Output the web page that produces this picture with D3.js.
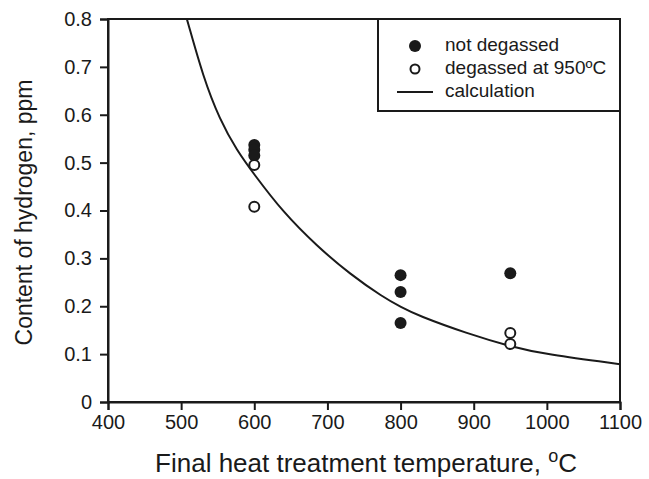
<!DOCTYPE html>
<html><head><meta charset="utf-8">
<script src="https://cdn.jsdelivr.net/npm/d3@7"></script>
<style>
body{margin:0;background:#fff;}
svg{font-family:"Liberation Sans",Arial,sans-serif;}
</style></head>
<body><svg id="c" width="649" height="479"></svg>
<script>
const xTicks = [400,500,600,700,800,900,1000,1100];
const yTicks = [0,0.1,0.2,0.3,0.4,0.5,0.6,0.7,0.8];
const notDegassedT = [600,600,600,800,800,800,950];
const notDegassedH = [0.537,0.527,0.515,0.265,0.230,0.165,0.269];
const degassedT = [600,600,950,950];
const degassedH = [0.495,0.408,0.144,0.121];
const calcT = [500,508,530,553,576,600,639,686,731,776,801,823,891,950,1000,1100];
const calcH = [0.84,0.80,0.679,0.589,0.526,0.475,0.397,0.325,0.267,0.219,0.198,0.181,0.143,0.116,0.099,0.079];
const legendLabels = ["not degassed","degassed at 950\u00BAC","calculation"];

const svg = d3.select("#c");
const L=108,R=620,T=19,B=402;
const x = d3.scaleLinear().domain([400,1100]).range([L,R]);
const y = d3.scaleLinear().domain([0,0.8]).range([B,T]);
const ink="#1a1a1a";

svg.append("defs").append("clipPath").attr("id","clip")
  .append("rect").attr("x",L).attr("y",T).attr("width",R-L).attr("height",B-T);

svg.append("rect").attr("x",L).attr("y",T).attr("width",R-L).attr("height",B-T)
  .attr("fill","none").attr("stroke",ink).attr("stroke-width",2);

const xa = svg.append("g").attr("transform",`translate(0,${B})`)
  .call(d3.axisBottom(x).tickValues(xTicks).tickSize(8).tickPadding(5).tickFormat(d3.format("d")));
const ya = svg.append("g").attr("transform",`translate(${L},0)`)
  .call(d3.axisLeft(y).tickValues(yTicks).tickSize(8).tickPadding(8).tickFormat(d=>d===0?"0":d3.format(".1f")(d)));
[xa,ya].forEach(g=>{
  g.select(".domain").attr("stroke",ink).attr("stroke-width",2);
  g.selectAll(".tick line").attr("stroke",ink).attr("stroke-width",2);
  g.selectAll(".tick text").attr("fill",ink).attr("font-size",20).attr("font-family","Liberation Sans, Arial, sans-serif");
});

const line = d3.line().x((d,i)=>x(calcT[i])).y((d,i)=>y(calcH[i])).curve(d3.curveBasis);
svg.append("path").datum(calcH).attr("d",line).attr("clip-path","url(#clip)")
  .attr("fill","none").attr("stroke",ink).attr("stroke-width",2);

svg.append("g").selectAll("circle").data(notDegassedH).join("circle")
  .attr("cx",(d,i)=>x(notDegassedT[i])).attr("cy",d=>y(d)).attr("r",6).attr("fill",ink);
svg.append("g").selectAll("circle").data(degassedH).join("circle")
  .attr("cx",(d,i)=>x(degassedT[i])).attr("cy",d=>y(d)).attr("r",5).attr("fill","#fff")
  .attr("stroke",ink).attr("stroke-width",2);

const lg = svg.append("g");
lg.append("rect").attr("x",378).attr("y",T).attr("width",R-378).attr("height",111-T)
  .attr("fill","#fff").attr("stroke",ink).attr("stroke-width",2);
lg.append("circle").attr("cx",415).attr("cy",46).attr("r",6).attr("fill",ink);
lg.append("circle").attr("cx",415).attr("cy",69).attr("r",4.5).attr("fill","#fff").attr("stroke",ink).attr("stroke-width",2);
lg.append("line").attr("x1",397).attr("x2",433).attr("y1",92).attr("y2",92).attr("stroke",ink).attr("stroke-width",2);
lg.selectAll("text").data(legendLabels).join("text")
  .attr("x",445).attr("y",(d,i)=>51+i*23).attr("font-size",19).attr("fill",ink).text(d=>d);

const xt = svg.append("text").attr("x",366).attr("y",472).attr("text-anchor","middle")
  .attr("font-size",26).attr("fill",ink);
xt.append("tspan").text("Final heat treatment temperature, ");
xt.append("tspan").attr("font-size",18).attr("dy",-10).text("o");
xt.append("tspan").attr("dy",10).text("C");
svg.append("text").attr("transform",`translate(32,${(T+B)/2 + 2}) rotate(-90)`).attr("text-anchor","middle")
  .attr("font-size",23).attr("fill",ink).text("Content of hydrogen, ppm");
</script></body></html>
